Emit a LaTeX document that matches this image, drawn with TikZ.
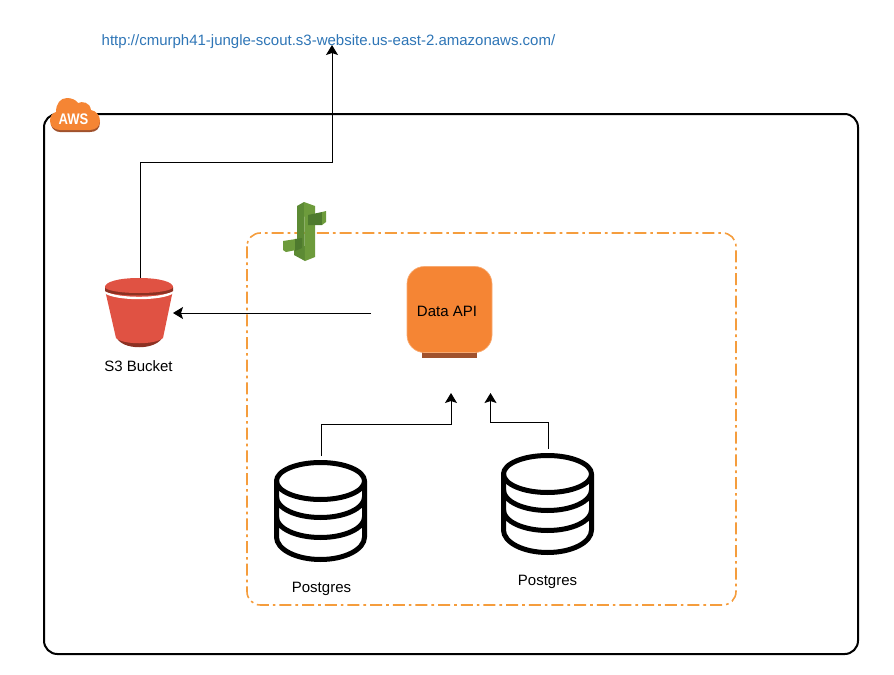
\documentclass[tikz,border=0pt]{standalone}
\usepackage{fontspec}
\setmainfont{Liberation Sans}
\usetikzlibrary{arrows.meta}
\definecolor{awsor}{HTML}{F58534}
\definecolor{awsdk}{HTML}{A0522D}
\definecolor{dashor}{HTML}{F59D3D}
\definecolor{urlblue}{HTML}{2E75B6}
\definecolor{s3red}{HTML}{E05243}
\definecolor{s3dk}{HTML}{8C3123}
\definecolor{gnlt}{HTML}{6D9B3C}
\definecolor{gnmd}{HTML}{5C8A34}
\definecolor{gndk}{HTML}{4E7A2E}
\tikzset{
  conn/.style={draw=black,line width=0.75pt,-{Stealth[length=7.5pt,width=9pt,inset=1.5pt]}},
  lbl/.style={font=\fontsize{11.25pt}{13pt}\selectfont,text=black,inner sep=0pt},
  anchorbox/.style={inner sep=0pt,minimum width=#1*0.75pt},
  dbline/.style={draw=black,line width=3.75pt,line join=round,line cap=round},
}
\newcommand{\dbicon}[2]{%
  \begin{scope}[shift={(#1,#2)}]
    \path[dbline] (-44,0) arc[x radius=44,y radius=18.5,start angle=180,end angle=-180];
    \path[dbline] (-44,0) -- (-44,56) arc[x radius=44,y radius=22.5,start angle=180,end angle=0] -- (44,0);
    \path[dbline] (-44,16) arc[x radius=44,y radius=20.5,start angle=180,end angle=0];
    \path[dbline] (-44,36) arc[x radius=44,y radius=20.5,start angle=180,end angle=0];
  \end{scope}}
\begin{document}
\begin{tikzpicture}[x=0.75pt,y=-0.75pt]
\useasboundingbox (0,0) rectangle (894,675);
% outer AWS box
\draw[black,line width=1.5pt,rounded corners=10pt] (44,114) rectangle (858,654);
% cloud
\fill[awsdk] (51,122) -- (51,125) .. controls (52,129) and (56,132) .. (60,132) -- (90,132) .. controls (96,132) and (100,129) .. (100,122) -- cycle;
\fill[awsor] (50,121) .. controls (50,116) and (52,113) .. (56,112)
  .. controls (56,104) and (60,98) .. (67,98)
  .. controls (72,98) and (76,100) .. (78,103)
  .. controls (82,101) and (90,102) .. (91,110)
  .. controls (96,111) and (100,115) .. (100,121)
  .. controls (100,126) and (96,130) .. (90,130)
  -- (60,130) .. controls (54,130) and (50,126) .. (50,121) -- cycle;
\node[font=\bfseries\fontsize{11.5pt}{13pt}\selectfont,text=white,inner sep=0pt] (awslabel) at (73.5,119) {\scalebox{0.85}[1]{AWS}};
% dashed group
\draw[dashor,line width=1.2pt,rounded corners=10pt,dash pattern=on 9pt off 3pt on 2pt off 3pt] (247,233) rectangle (736,605);
% cactus
\fill[gnmd] (304,202) -- (297,206) -- (297,240) -- (294,241) -- (294,255) -- (305,261) -- cycle;
\fill[gnlt] (304,202) -- (315,206) -- (315,257) -- (305,261) -- cycle;
\fill[gndk] (308,215) -- (322,212) -- (322,225) -- (308,225) -- cycle;
\fill[gnlt] (322,212) -- (326,211) -- (326,222) -- (322,225) -- cycle;
\fill[gnlt] (283,241) -- (296,239) -- (296,250) -- (286,252) -- (283,250) -- cycle;
\fill[gndk] (295,239) -- (302,238) -- (302,248) -- (295,251) -- cycle;
% S3 bucket
\fill[s3dk] (116,336) .. controls (120,351) and (158,351) .. (163,336) -- cycle;
\fill[s3red] (105,290) -- (173,290) -- (163,338) .. controls (155,345) and (123,345) .. (116,338) -- cycle;
\draw[white,line width=1.8pt] (105,292) .. controls (115,300) and (163,300) .. (173,292);
\fill[s3dk] (105,287) -- (105,291) .. controls (112,297) and (166,297) .. (173,291) -- (173,287) -- cycle;
\fill[s3red] (139,278) .. controls (160,278) and (173,282) .. (173,287) .. controls (173,290) and (160,293) .. (139,293) .. controls (118,293) and (105,290) .. (105,287) .. controls (105,282) and (118,278) .. (139,278) -- cycle;
\node[anchorbox=68,minimum height=52.5pt] (s3) at (139,313) {};
\node[lbl] (s3label) at (138.5,366) {S3 Bucket};
% Data API
\fill[awsdk] (422,350) rectangle (477,358);
\node[fill=awsor,draw=awsor!70!white,line width=0.5pt,rounded corners=13pt,minimum width=63.75pt,minimum height=64.5pt,inner sep=0pt] (api) at (449.5,309.5) {};
\node[lbl] (apilabel) at (447,311) {Data API};
% databases
\dbicon{320.5}{481}
\dbicon{547.5}{474}
\node[anchorbox=93,minimum height=75pt] (db1) at (320.5,511) {};
\node[anchorbox=93,minimum height=75pt] (db2) at (547.5,504) {};
\node[lbl] (pg1) at (321.5,588.5) {Postgres};
\node[lbl] (pg2) at (547.5,581.5) {Postgres};
% URL
\node[font=\fontsize{11.25pt}{13pt}\selectfont,text=urlblue,inner sep=0pt] (url) at (328.5,41.5) {http://cmurph41-jungle-scout.s3-website.us-east-2.amazonaws.com/};
% connectors
\coordinate (urlend) at (332,45);
\coordinate (s3out) at (140,278);
\coordinate (apiout) at (371,313);
\coordinate (s3in) at (173,313);
\coordinate (db1out) at (321,456);
\coordinate (db2out) at (548,449);
\coordinate (api1in) at (451,393);
\coordinate (api2in) at (490.5,393);
\draw[conn] (s3out) -- (140,162) -- (332,162) -- (urlend);
\draw[conn] (apiout) -- (s3in);
\draw[conn] (db1out) -- (321,424) -- (451,424) -- (api1in);
\draw[conn] (db2out) -- (548,422) -- (490.5,422) -- (api2in);
\end{tikzpicture}
\end{document}
